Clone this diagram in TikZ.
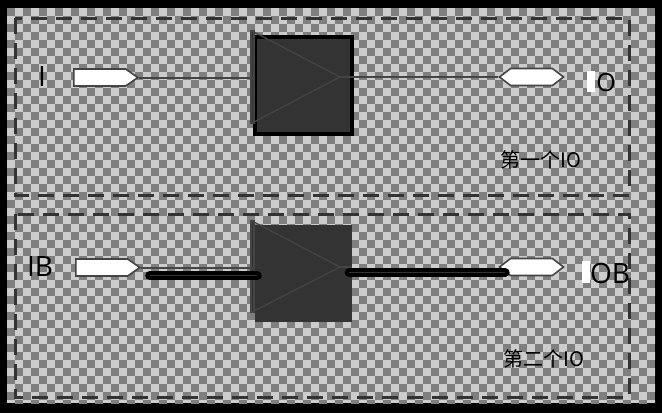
\documentclass[tikz,border=0pt]{standalone}
\usepackage{fontspec}
\setmainfont{Open Sans}
\newfontfamily\cjk{Noto Sans CJK SC}
\usetikzlibrary{shapes.symbols}
\definecolor{chklight}{HTML}{CCCCCC}
\definecolor{chkdark}{HTML}{7F7F7F}
\definecolor{linegray}{HTML}{444444}
\definecolor{dashgray}{HTML}{333333}
\definecolor{boxfill}{HTML}{333333}

\begin{document}
\begin{tikzpicture}[
    x=1pt,y=-1pt,
    group/.style={draw=dashgray, line width=3pt, dash pattern=on 16pt off 9pt},
    port/.style={signal, draw=linegray, fill=white, line width=1.6pt, inner sep=0pt, minimum width=64pt, minimum height=17pt},
    inport/.style={port, anchor=west, signal to=east, signal pointer angle=70},
    outport/.style={port, signal to=east and west, signal pointer angle=75},
    buf/.style={rectangle, fill=boxfill, inner sep=0pt, minimum size=97pt},
    tri/.style={draw=linegray, line width=1.3pt},
    wire/.style={draw=linegray, line width=2pt},
    bus/.style={line width=9pt, line cap=round, black},
    lbl/.style={inner sep=0pt, font=\fontsize{28}{30}\selectfont},
    tag/.style={fill=white, inner sep=0pt, minimum width=8pt, minimum height=21pt}
]
    % background
    \fill[black] (0,0) rectangle (662,413);
    \useasboundingbox (0,0) rectangle (662,413);
    \begin{scope}
        \clip (7,8) rectangle (655,403);
        \fill[chklight] (7,8) rectangle (655,403);
        \foreach \j in {0,...,49}{
            \pgfmathtruncatemacro\off{mod(\j,2)*8}
            \foreach \i in {0,16,...,640}
                \fill[chkdark] (7+\i+\off,8+8*\j) rectangle +(8,8);
        }
    \end{scope}

    % first IO
    \draw[group] (15,18) rectangle (629,195);
    \node[inport] (in1) at (73,77.5) {};
    \node[outport] (out1) at (531.5,77) {};
    \node[buf, draw=black, line width=4pt] (box1) at (303.5,85.5) {};
    \draw[tri, fill=boxfill] (251,31) rectangle (254,123);
    \draw[tri] (252,31) -- (340,77) -- (252,123);
    \draw[tri] (340,77) -- (box1.east |- out1.west);

    \draw[wire] (in1.east) -- (in1.east -| box1.west);
    \draw[wire] (box1.east |- out1.west) -- (out1.west);

    \node[lbl] (i1) at (42,77) {I};
    \node[tag] (t1) at (591,81.5) {};
    \node[lbl, font=\fontsize{25}{27}\selectfont] (o1) at (606,83) {O};
    \node[lbl, font=\fontsize{20}{22}\selectfont\cjk] (g1) at (541,160) {第一个IO};

    % second IO
    \draw[group] (15,214) rectangle (629,397);
    \node[inport] (in2) at (75,267.5) {};
    \node[outport] (out2) at (531.5,267) {};
    \node[buf] (box2) at (303.5,273.5) {};
    \draw[tri, fill=boxfill] (251,221) rectangle (254,312);
    \draw[tri] (252,221) -- (340,267) -- (252,312);
    \draw[tri] (340,267) -- (box2.east |- out2.west);

    \draw[wire] (in2.east) -- (in2.east -| box2.west);
    \draw[bus] ([shift={(8.5,8)}]in2.east) -- ([shift={(2.5,8)}]in2.east -| box2.west);
    \draw[bus] ([shift={(-3,5.5)}]box2.east |- out2.west) -- ([shift={(7,5.5)}]out2.west);
    \draw[boxfill, line width=1.5pt] ([shift={(8.5,8)}]in2.east) -- ([shift={(2.5,8)}]in2.east -| box2.west);
    \draw[boxfill, line width=1.5pt] ([shift={(-3,5.5)}]box2.east |- out2.west) -- ([shift={(7,5.5)}]out2.west);

    \node[lbl] (i2) at (40,267) {IB};
    \node[tag, minimum height=22pt] (t2) at (586,272) {};
    \node[lbl] (o2) at (610,273) {OB};
    \node[lbl, font=\fontsize{20}{22}\selectfont\cjk] (g2) at (544,359) {第二个IO};
\end{tikzpicture}
\end{document}
